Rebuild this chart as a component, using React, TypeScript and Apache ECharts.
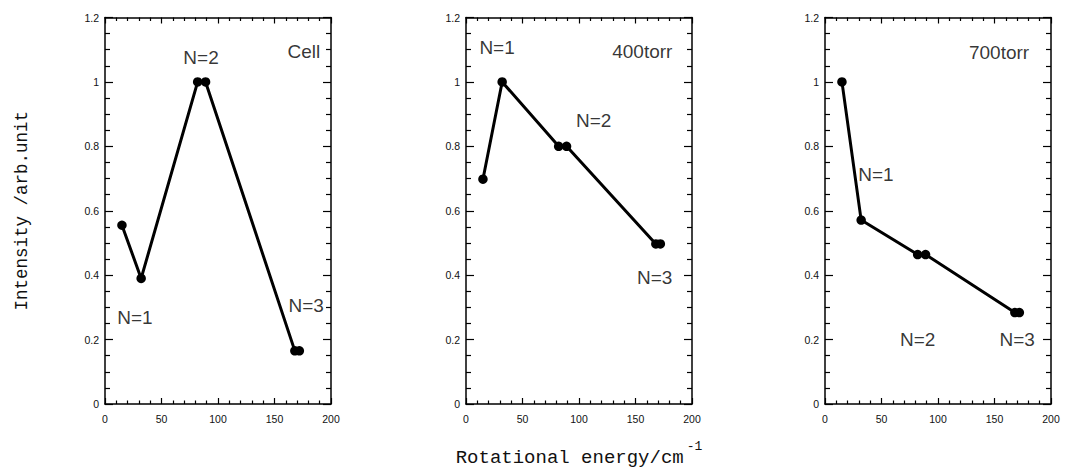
import React, { useEffect, useRef } from "react";
import * as echarts from "echarts";

const energies = [15, 32, 82, 89, 168, 172];
const cellValues = [0.555, 0.39, 1.0, 1.0, 0.165, 0.165];
const torr400Values = [0.698, 1.0, 0.8, 0.8, 0.497, 0.497];
const torr700Values = [1.0, 0.571, 0.464, 0.464, 0.284, 0.284];

const panelValues = [cellValues, torr400Values, torr700Values];

// annotation texts: [x, y, text]
const cellNotes: [number, number, string][] = [
  [176, 1.093, "Cell"],
  [85, 1.075, "N=2"],
  [26.5, 0.27, "N=1"],
  [178, 0.307, "N=3"],
];
const torr400Notes: [number, number, string][] = [
  [156, 1.093, "400torr"],
  [27.5, 1.106, "N=1"],
  [113, 0.879, "N=2"],
  [167, 0.394, "N=3"],
];
const torr700Notes: [number, number, string][] = [
  [154, 1.09, "700torr"],
  [45, 0.714, "N=1"],
  [82, 0.2, "N=2"],
  [170, 0.2, "N=3"],
];
const panelNotes = [cellNotes, torr400Notes, torr700Notes];

const xTicks = { min: 0, max: 200, interval: 50 };
const yTicks = { min: 0, max: 1.2, interval: 0.2 };

const yTitle = "Intensity /arb.unit";
const xTitle = "Rotational energy/cm";

export default function App() {
  const ref = useRef<HTMLDivElement>(null);
  useEffect(() => {
    if (!ref.current) return;
    const chart = echarts.init(ref.current, null, { renderer: "svg" });
    const lefts = [105, 466, 825];
    const grids = lefts.map((l) => ({
      left: l,
      top: 17.5,
      width: 226,
      height: 386.5,
      outerBoundsMode: "none",
      containLabel: false,
    }));
    const axisLine = { show: true, onZero: false, lineStyle: { color: "#000", width: 1.5 } };
    const tickLabel = {
      color: "#111",
      fontFamily: "Liberation Sans, Arial",
      fontSize: 10.5,
    };
    const xTick = { inside: true, length: 6, lineStyle: { color: "#000", width: 1.2 } };
    const xMinor = { show: true, splitNumber: 5, length: 3.5, lineStyle: { color: "#000", width: 1.2 } };
    const yTick = { inside: true, length: 8, lineStyle: { color: "#000", width: 1.2 } };
    const yMinor = { show: true, splitNumber: 4, length: 5, lineStyle: { color: "#000", width: 1.2 } };
    const xAxes: any[] = [];
    const yAxes: any[] = [];
    grids.forEach((_, i) => {
      xAxes.push({
        type: "value",
        gridIndex: i,
        position: "bottom",
        ...xTicks,
        axisLine,
        axisTick: xTick,
        minorTick: xMinor,
        splitLine: { show: false },
        axisLabel: { ...tickLabel, margin: 9 },
      });
      xAxes.push({
        type: "value",
        gridIndex: i,
        position: "top",
        ...xTicks,
        axisLine,
        axisTick: xTick,
        minorTick: xMinor,
        splitLine: { show: false },
        axisLabel: { show: false },
      });
      yAxes.push({
        type: "value",
        gridIndex: i,
        position: "left",
        ...yTicks,
        axisLine,
        axisTick: yTick,
        minorTick: yMinor,
        splitLine: { show: false },
        axisLabel: {
          ...tickLabel,
          margin: 6,
          formatter: (v: number) => String(Math.round(v * 10) / 10),
        },
      });
      yAxes.push({
        type: "value",
        gridIndex: i,
        position: "right",
        ...yTicks,
        axisLine,
        axisTick: yTick,
        minorTick: yMinor,
        splitLine: { show: false },
        axisLabel: { show: false },
      });
    });
    // titles
    xAxes[2] = {
      ...xAxes[2],
      name: "{a|" + xTitle + "}{b|-1}",
      nameLocation: "middle",
      nameGap: 36,
      nameTextStyle: {
        rich: {
          a: { fontFamily: "Liberation Mono", fontSize: 19, color: "#111", verticalAlign: "bottom" },
          b: { fontFamily: "Liberation Mono", fontSize: 13, color: "#111", verticalAlign: "top", padding: [0, 0, 14, 3] },
        },
      },
    };
    yAxes[0] = {
      ...yAxes[0],
      name: yTitle,
      nameLocation: "middle",
      nameGap: 74,
      nameRotate: 90,
      nameTextStyle: { fontFamily: "Liberation Mono", fontSize: 17.5, color: "#111" },
    };
    const series: any[] = [];
    panelValues.forEach((vals, i) => {
      series.push({
        type: "line",
        xAxisIndex: 2 * i,
        yAxisIndex: 2 * i,
        data: energies.map((e, k) => [e, vals[k]]),
        symbol: "circle",
        symbolSize: 9.5,
        lineStyle: { color: "#000", width: 3 },
        itemStyle: { color: "#000" },
        z: 3,
      });
      series.push({
        type: "scatter",
        xAxisIndex: 2 * i,
        yAxisIndex: 2 * i,
        symbolSize: 2,
        itemStyle: { color: "rgba(0,0,0,0)" },
        data: panelNotes[i].map((n) => ({ value: [n[0], n[1]], name: n[2] })),
        label: {
          show: true,
          position: "inside",
          formatter: "{b}",
          fontFamily: "Liberation Sans, Arial",
          fontSize: 19,
          color: "#000",
        },
        labelLayout: { hideOverlap: false },
        z: 4,
      });
    });
    chart.setOption({
      animation: false,
      backgroundColor: "#fff",
      grid: grids,
      xAxis: xAxes,
      yAxis: yAxes,
      series,
    });
    return () => chart.dispose();
  }, []);
  return (
    <div
      ref={ref}
      style={{ position: "fixed", left: 0, top: 0, width: 1065, height: 467 }}
    />
  );
}
